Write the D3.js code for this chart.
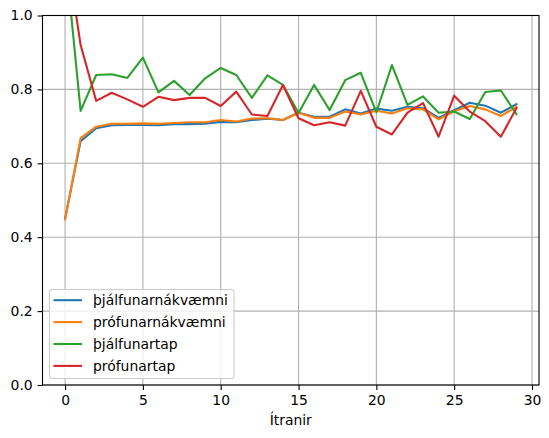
<!DOCTYPE html>
<html>
<head>
<meta charset="utf-8">
<script src="https://cdn.jsdelivr.net/npm/d3@7"></script>
<style>
  body { margin: 0; background: #fff; }
  text { font-family: "DejaVu Sans", sans-serif; }
</style>
</head>
<body>
<div id="chart"></div>
<script>
// epochs 0..29
const epochs = d3.range(0, 30);

const trainAcc = [0.450, 0.660, 0.695, 0.703, 0.704, 0.704, 0.703, 0.706, 0.706, 0.707,
                  0.712, 0.711, 0.717, 0.721, 0.717, 0.737, 0.726, 0.726, 0.746, 0.735,
                  0.748, 0.742, 0.753, 0.749, 0.723, 0.744, 0.764, 0.756, 0.737, 0.760];
const testAcc  = [0.448, 0.668, 0.699, 0.707, 0.707, 0.708, 0.707, 0.709, 0.711, 0.711,
                  0.717, 0.713, 0.721, 0.722, 0.717, 0.737, 0.723, 0.723, 0.740, 0.732,
                  0.742, 0.735, 0.749, 0.746, 0.719, 0.741, 0.755, 0.746, 0.728, 0.753];
const trainLoss = [1.17, 0.742, 0.839, 0.841, 0.831, 0.886, 0.792, 0.823, 0.785, 0.830,
                   0.858, 0.839, 0.777, 0.838, 0.812, 0.736, 0.812, 0.744, 0.825, 0.845,
                   0.738, 0.866, 0.758, 0.781, 0.737, 0.740, 0.720, 0.793, 0.797, 0.733];
const testLoss  = [1.20, 0.920, 0.769, 0.791, 0.773, 0.753, 0.780, 0.771, 0.777, 0.777,
                   0.755, 0.794, 0.732, 0.728, 0.812, 0.722, 0.703, 0.711, 0.702, 0.796,
                   0.699, 0.678, 0.737, 0.763, 0.672, 0.783, 0.740, 0.714, 0.672, 0.749];

const seriesNames = ["þjálfunarnákvæmni", "prófunarnákvæmni", "þjálfunartap", "prófunartap"];
const seriesColors = ["#1f77b4", "#ff7f0e", "#2ca02c", "#d62728"];
const xTicks = [0, 5, 10, 15, 20, 25, 30];
const yTicks = [0.0, 0.2, 0.4, 0.6, 0.8, 1.0];
const xLabel = "Ítranir";

const series = [trainAcc, testAcc, trainLoss, testLoss].map((vals, k) => ({
    name: seriesNames[k],
    color: seriesColors[k],
    values: vals.map((v, i) => ({x: epochs[i], y: v}))
}));

const W = 549, H = 438;
const margin = {top: 15.5, right: 10, bottom: 53, left: 42.5};
const width = W - margin.left - margin.right;
const height = H - margin.top - margin.bottom;

const svg = d3.select("#chart")
    .append("svg")
    .attr("width", W)
    .attr("height", H);

const g = svg.append("g")
    .attr("transform", `translate(${margin.left},${margin.top})`);

// matplotlib style 5% padding on x
const pad = 29 * 0.05;
const xScale = d3.scaleLinear().domain([-pad, 29 + pad]).range([0, width]);
const yScale = d3.scaleLinear().domain([0, 1]).range([height, 0]);

// grid
g.append("g")
    .selectAll("line")
    .data(xTicks)
    .join("line")
    .attr("x1", d => xScale(d)).attr("x2", d => xScale(d))
    .attr("y1", 0).attr("y2", height)
    .attr("stroke", "#b0b0b0").attr("stroke-width", 1.1);

g.append("g")
    .selectAll("line")
    .data(yTicks)
    .join("line")
    .attr("y1", d => yScale(d)).attr("y2", d => yScale(d))
    .attr("x1", 0).attr("x2", width)
    .attr("stroke", "#b0b0b0").attr("stroke-width", 1.1);

// lines, clipped to the axes
g.append("clipPath").attr("id", "clip")
    .append("rect").attr("width", width).attr("height", height);

const line = d3.line()
    .x(d => xScale(d.x))
    .y(d => yScale(d.y));

g.append("g")
    .attr("clip-path", "url(#clip)")
    .selectAll("path")
    .data(series)
    .join("path")
    .attr("fill", "none")
    .attr("stroke", d => d.color)
    .attr("stroke-width", 2.1)
    .attr("stroke-linejoin", "round")
    .attr("stroke-linecap", "square")
    .attr("d", d => line(d.values));

// axes
const xAxis = d3.axisBottom(xScale).tickValues(xTicks).tickFormat(d3.format("d"))
    .tickSize(4.9).tickPadding(4.9);
const yAxis = d3.axisLeft(yScale).tickValues(yTicks).tickFormat(d3.format(".1f"))
    .tickSize(4.9).tickPadding(4.9);

const xg = g.append("g")
    .attr("transform", `translate(0,${height})`)
    .call(xAxis);
const yg = g.append("g").call(yAxis);

[xg, yg].forEach(a => {
    a.select(".domain").remove();
    a.selectAll(".tick line").attr("stroke", "#000").attr("stroke-width", 1.1);
    a.selectAll(".tick text")
        .attr("fill", "#000")
        .style("font-size", "13.9px")
        .style("font-family", "DejaVu Sans, sans-serif");
});

// frame
g.append("rect")
    .attr("width", width).attr("height", height)
    .attr("fill", "none").attr("stroke", "#000").attr("stroke-width", 1.1);

// x label
g.append("text")
    .attr("x", width / 2)
    .attr("y", height + 40)
    .attr("text-anchor", "middle")
    .style("font-size", "13.9px")
    .text(xLabel);

// legend
const lg = g.append("g").attr("transform", `translate(${49.5 - margin.left},${289.5 - margin.top})`);
lg.append("rect")
    .attr("width", 184.5).attr("height", 89)
    .attr("rx", 2.5)
    .attr("fill", "#fff").attr("fill-opacity", 0.8)
    .attr("stroke", "#cccccc").attr("stroke-width", 1.1);

const items = lg.selectAll(".item")
    .data(series)
    .join("g")
    .attr("class", "item")
    .attr("transform", (d, i) => `translate(0,${10.7 + i * 21.9})`);

items.append("line")
    .attr("x1", 4).attr("x2", 32.5)
    .attr("stroke", d => d.color).attr("stroke-width", 2.1);

items.append("text")
    .attr("x", 43.5)
    .attr("dy", "0.35em")
    .style("font-size", "13.9px")
    .text(d => d.name);
</script>
</body>
</html>
